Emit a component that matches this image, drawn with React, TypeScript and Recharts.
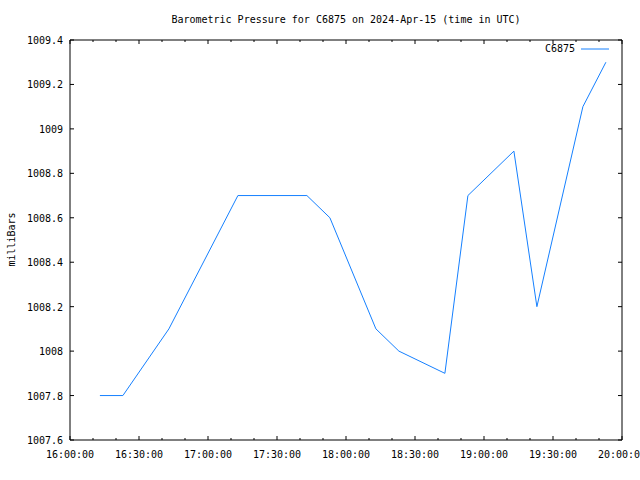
import React from 'react';
import { LineChart, Line, XAxis, YAxis, Legend } from 'recharts';

// minutes after 16:00 UTC
const minutes = [13, 23, 43, 73, 103, 113, 133, 143, 163, 173, 193, 203, 223, 233];
const pressure = [1007.8, 1007.8, 1008.1, 1008.7, 1008.7, 1008.6, 1008.1, 1008.0, 1007.9, 1008.7, 1008.9, 1008.2, 1009.1, 1009.3];

const xTicks = [0, 10, 20, 30, 40, 50, 60, 70, 80, 90, 100, 110, 120, 130, 140, 150, 160, 170, 180, 190, 200, 210, 220, 230, 240];
const yTicks = [1007.6, 1007.8, 1008, 1008.2, 1008.4, 1008.6, 1008.8, 1009, 1009.2, 1009.4];

const data = minutes.map((t, i) => ({ t, p: pressure[i] }));

const FONT = '"DejaVu Sans Mono", monospace';
const LINE = '#1580ff';
const TS = 6; // recharts tickSize, ticks are drawn by hand (inward)

const fmtTime = (m: number) => {
   const h = 16 + Math.floor(m / 60);
   const mm = m % 60;
   return `${h}:${mm < 10 ? '0' : ''}${mm}:00`;
};

const BottomTick = (props: any) => {
   const { x, y, payload } = props;
   const base = y - TS;
   const major = payload.value % 30 === 0;
   return (
      <g>
         <line x1={x} x2={x} y1={base} y2={base - (major ? 4 : 2)} stroke="#000" />
         {major && (
            <text x={x} y={base + 18} textAnchor="middle" fontSize={10} fontFamily={FONT} fill="#000">
               {fmtTime(payload.value)}
            </text>
         )}
      </g>
   );
};

const TopTick = (props: any) => {
   const { x, y, payload } = props;
   const base = y + TS;
   const major = payload.value % 30 === 0;
   return <line x1={x} x2={x} y1={base} y2={base + (major ? 4 : 2)} stroke="#000" />;
};

const LeftTick = (props: any) => {
   const { x, y, payload } = props;
   const base = x + TS;
   return (
      <g>
         <line x1={base} x2={base + 4} y1={y} y2={y} stroke="#000" />
         <text x={base - 7} y={y + 4} textAnchor="end" fontSize={10} fontFamily={FONT} fill="#000">
            {String(payload.value)}
         </text>
      </g>
   );
};

const RightTick = (props: any) => {
   const { x, y } = props;
   const base = x - TS;
   return <line x1={base} x2={base - 4} y1={y} y2={y} stroke="#000" />;
};

const LegendBox = () => (
   <div style={{ display: 'flex', alignItems: 'center', fontFamily: FONT, fontSize: 10 }}>
      <span>C6875</span>
      <svg width={34} height={10} style={{ marginLeft: 6 }}>
         <line x1={0} x2={28} y1={5} y2={5} stroke={LINE} />
      </svg>
   </div>
);

export default function App() {
   return (
      <div style={{ position: 'absolute', left: 0, top: 0, width: 640, height: 480, background: '#fff' }}>
         <div style={{ position: 'absolute', left: 0, top: 14, width: 692, textAlign: 'center', fontFamily: FONT, fontSize: 10 }}>
            Barometric Pressure for C6875 on 2024-Apr-15 (time in UTC)
         </div>
         <div style={{ position: 'absolute', left: -29, top: 234, width: 80, textAlign: 'center', fontFamily: FONT, fontSize: 10, transform: 'rotate(-90deg)' }}>
            milliBars
         </div>
         <LineChart width={640} height={480} data={data} margin={{ top: 39, right: 17, bottom: 10, left: 0 }}>
            <XAxis
               dataKey="t"
               type="number"
               domain={[0, 240]}
               ticks={xTicks}
               interval={0}
               height={30}
               tickSize={TS}
               tickMargin={0}
               tickLine={false}
               axisLine={{ stroke: '#000' }}
               tick={<BottomTick />}
            />
            <XAxis
               xAxisId="top"
               dataKey="t"
               orientation="top"
               type="number"
               domain={[0, 240]}
               ticks={xTicks}
               interval={0}
               height={1}
               tickSize={TS}
               tickMargin={0}
               tickLine={false}
               axisLine={{ stroke: '#000' }}
               tick={<TopTick />}
            />
            <YAxis
               type="number"
               domain={[1007.6, 1009.4]}
               ticks={yTicks}
               interval={0}
               width={70}
               tickSize={TS}
               tickMargin={0}
               tickLine={false}
               axisLine={{ stroke: '#000' }}
               tick={<LeftTick />}
            />
            <YAxis
               yAxisId="right"
               orientation="right"
               type="number"
               domain={[1007.6, 1009.4]}
               ticks={yTicks}
               interval={0}
               width={1}
               tickSize={TS}
               tickMargin={0}
               tickLine={false}
               axisLine={{ stroke: '#000' }}
               tick={<RightTick />}
            />
            <Legend
               layout="vertical"
               verticalAlign="middle"
               align="center"
               wrapperStyle={{ top: 43, right: 25, left: 'auto', width: 'auto' }}
               content={<LegendBox />}
            />
            <Line
               dataKey="p"
               type="linear"
               stroke={LINE}
               strokeWidth={1}
               dot={false}
               activeDot={false}
               isAnimationActive={false}
            />
            <Line
               xAxisId="top"
               yAxisId="right"
               dataKey="p"
               stroke="none"
               dot={false}
               activeDot={false}
               legendType="none"
               isAnimationActive={false}
            />
         </LineChart>
      </div>
   );
}
